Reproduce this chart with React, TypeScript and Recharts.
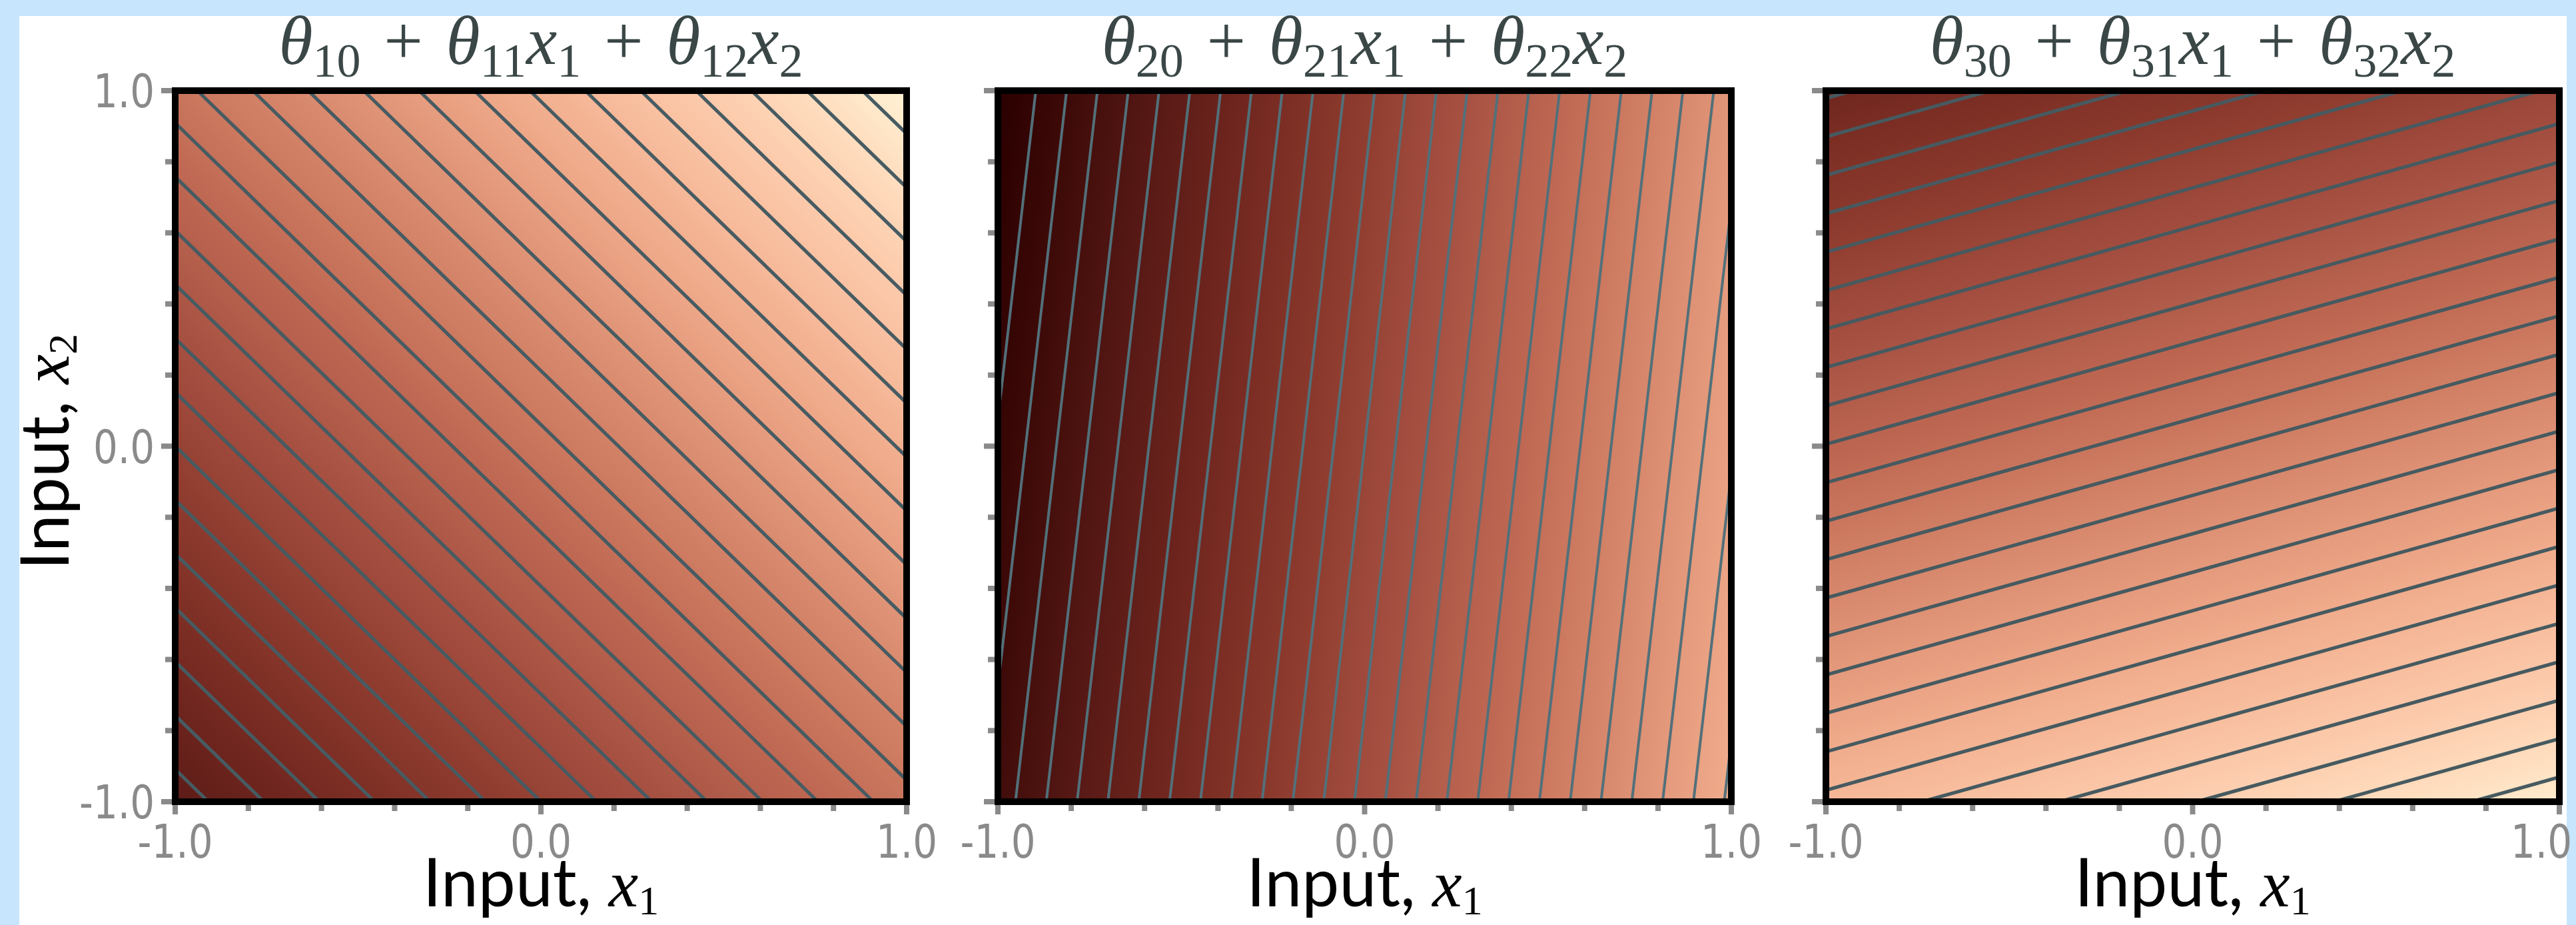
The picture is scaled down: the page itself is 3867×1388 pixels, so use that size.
import React from 'react';
import { ComposedChart, XAxis, YAxis, ReferenceArea, ReferenceLine } from 'recharts';

// ---------- data ----------
const axisTicks = [-1, -0.8, -0.6, -0.4, -0.2, 0, 0.2, 0.4, 0.6, 0.8, 1];
const labelledTicks = [-1, 0, 1];
const tickText = ['-1.0', '0.0', '1.0'];

// plane coefficients [theta_k0, theta_k1, theta_k2]
const theta1 = [0.06, 0.66, 0.66];
const theta2 = [0.0, 1.19, -0.133];
const theta3 = [-0.028, 0.267, -0.925];

// contour levels drawn in each panel
const levels1 = [-1.2, -1.1, -1.0, -0.9, -0.8, -0.7, -0.6, -0.5, -0.4, -0.3, -0.2, -0.1, 0.0, 0.1, 0.2, 0.3, 0.4, 0.5, 0.6, 0.7, 0.8, 0.9, 1.0, 1.1, 1.2, 1.3];
const levels2 = [-1.2, -1.1, -1.0, -0.9, -0.8, -0.7, -0.6, -0.5, -0.4, -0.3, -0.2, -0.1, 0.0, 0.1, 0.2, 0.3, 0.4, 0.5, 0.6, 0.7, 0.8, 0.9, 1.0, 1.1, 1.2, 1.3];
const levels3 = [-1.2, -1.1, -1.0, -0.9, -0.8, -0.7, -0.6, -0.5, -0.4, -0.3, -0.2, -0.1, 0.0, 0.1, 0.2, 0.3, 0.4, 0.5, 0.6, 0.7, 0.8, 0.9, 1.0, 1.1];

// value range mapped onto the colour map
const colorRange1 = [-1.79, 1.36];
const colorRange2 = [-1.323, 2.07];
const colorRange3 = [-1.95, 1.2];

const colormap = [
  '#2a0000', '#3a0806', '#4a120f', '#5c1b17', '#6c241d', '#7c2e24', '#8a382c',
  '#984436', '#a65042', '#b45e4c', '#c26c56', '#ce7c62', '#da8c70', '#e69c7e',
  '#f0ac8c', '#f7bc9c', '#fccbac', '#fedcbd', '#fff0d2',
];

const titleSubs1 = ['10', '11', '12'];
const titleSubs2 = ['20', '21', '22'];
const titleSubs3 = ['30', '31', '32'];

// ---------- layout / style ----------
const PAGE_W = 3867;
const PAGE_H = 1388;
const PLOT_TOP = 136;
const PLOT_H = 1067;
const AXIS_W = 240;
const RIGHT_M = 110;
const XAXIS_H = PAGE_H - PLOT_TOP - PLOT_H;
const tickColor = '#8a8a8a';
const tickFont = "'Liberation Sans Narrow', 'DejaVu Sans Condensed', 'Liberation Sans', sans-serif";
const mathFont = "'Liberation Serif', 'DejaVu Serif', serif";
const labelFont = "Lato, 'Open Sans', sans-serif";
const TICK_SCALE = 0.92;

type Pt = { x: number; y: number };

function contourSegment(theta: number[], z: number): [Pt, Pt] | null {
  const [a0, a1, a2] = theta;
  const pts: Pt[] = [];
  const eps = 1e-9;
  if (Math.abs(a2) > eps) {
    for (const x of [-1, 1]) {
      const y = (z - a0 - a1 * x) / a2;
      if (y >= -1 - eps && y <= 1 + eps) pts.push({ x, y: Math.max(-1, Math.min(1, y)) });
    }
  }
  if (Math.abs(a1) > eps) {
    for (const y of [-1, 1]) {
      const x = (z - a0 - a2 * y) / a1;
      if (x >= -1 - eps && x <= 1 + eps) pts.push({ x: Math.max(-1, Math.min(1, x)), y });
    }
  }
  const uniq: Pt[] = [];
  for (const p of pts) {
    if (!uniq.some((q) => Math.abs(q.x - p.x) < 1e-6 && Math.abs(q.y - p.y) < 1e-6)) uniq.push(p);
  }
  return uniq.length >= 2 ? [uniq[0], uniq[1]] : null;
}

function gradientVector(theta: number[], range: number[]) {
  const [a0, a1, a2] = theta;
  const gx = 2 * a1;
  const gy = -2 * a2;
  const g2 = gx * gx + gy * gy;
  return {
    x1: 0.5 + ((range[0] - a0) * gx) / g2,
    y1: 0.5 + ((range[0] - a0) * gy) / g2,
    x2: 0.5 + ((range[1] - a0) * gx) / g2,
    y2: 0.5 + ((range[1] - a0) * gy) / g2,
  };
}

function majorIndex(v: number) {
  return labelledTicks.findIndex((t) => Math.abs(t - v) < 1e-9);
}

const makeXTick = (endAnchorLast: boolean) => (props: any) => {
  const { x, y, payload } = props;
  const li = majorIndex(payload.value);
  const major = li >= 0;
  const atEnd = endAnchorLast && li === labelledTicks.length - 1;
  return (
    <g>
      <line x1={x} x2={x} y1={y + 5} y2={y + (major ? 19 : 14)} stroke={tickColor} strokeWidth={8} />
      {major && (
        <text
          x={0}
          y={0}
          transform={`translate(${atEnd ? x + 19 : x}, ${y + 84}) scale(${TICK_SCALE}, 1)`}
          textAnchor={atEnd ? 'end' : 'middle'}
          fontSize={70}
          fill={tickColor}
          fontFamily={tickFont}
        >
          {tickText[li]}
        </text>
      )}
    </g>
  );
};

const makeYTick = (showLabel: boolean) => (props: any) => {
  const { x, y, payload } = props;
  const li = majorIndex(payload.value);
  const major = li >= 0;
  return (
    <g>
      <line x1={x - 5} x2={x - (major ? 21 : 15)} y1={y} y2={y} stroke={tickColor} strokeWidth={8} />
      {showLabel && major && (
        <text
          x={0}
          y={0}
          transform={`translate(${x - 31}, ${y + 25}) scale(${TICK_SCALE}, 1)`}
          textAnchor="end"
          fontSize={70}
          fill={tickColor}
          fontFamily={tickFont}
        >
          {tickText[li]}
        </text>
      )}
    </g>
  );
};

type PanelProps = {
  id: string;
  left: number;
  width: number;
  theta: number[];
  levels: number[];
  range: number[];
  lineColor: string;
  lineWidth: number;
  showYLabels: boolean;
  lastAtEdge: boolean;
};

function Panel({ id, left, width, theta, levels, range, lineColor, lineWidth, showYLabels, lastAtEdge }: PanelProps) {
  const gv = gradientVector(theta, range);
  const segs = levels.map((z) => contourSegment(theta, z)).filter((s) => s !== null) as [Pt, Pt][];
  const chartW = AXIS_W + width + RIGHT_M;
  return (
    <div style={{ position: 'absolute', left: left - AXIS_W, top: 0, width: chartW, height: PAGE_H }}>
      <ComposedChart width={chartW} height={PAGE_H} margin={{ top: PLOT_TOP, right: RIGHT_M, bottom: 0, left: 0 }}>
        <defs>
          <linearGradient id={`grad${id}`} gradientUnits="objectBoundingBox" x1={gv.x1} y1={gv.y1} x2={gv.x2} y2={gv.y2}>
            {colormap.map((c, i) => (
              <stop key={i} offset={i / (colormap.length - 1)} stopColor={c} />
            ))}
          </linearGradient>
        </defs>
        <XAxis
          type="number"
          dataKey="x"
          domain={[-1, 1]}
          allowDataOverflow
          ticks={axisTicks}
          interval={0}
          tickSize={0}
          tickMargin={0}
          axisLine={false}
          tickLine={false}
          height={XAXIS_H}
          tick={makeXTick(lastAtEdge)}
        />
        <YAxis
          type="number"
          dataKey="y"
          domain={[-1, 1]}
          allowDataOverflow
          ticks={axisTicks}
          interval={0}
          tickSize={0}
          tickMargin={0}
          axisLine={false}
          tickLine={false}
          width={AXIS_W}
          tick={makeYTick(showYLabels)}
        />
        <ReferenceArea x1={-1} x2={1} y1={-1} y2={1} fill={`url(#grad${id})`} fillOpacity={1} stroke="none" ifOverflow="visible" />
        {segs.map((s, i) => (
          <ReferenceLine key={`c${i}`} segment={s} stroke={lineColor} strokeWidth={lineWidth} ifOverflow="visible" />
        ))}
        <ReferenceLine x={-1} stroke="#000" strokeWidth={10} strokeLinecap="square" ifOverflow="visible" />
        <ReferenceLine x={1} stroke="#000" strokeWidth={10} strokeLinecap="square" ifOverflow="visible" />
        <ReferenceLine y={-1} stroke="#000" strokeWidth={10} strokeLinecap="square" ifOverflow="visible" />
        <ReferenceLine y={1} stroke="#000" strokeWidth={10} strokeLinecap="square" ifOverflow="visible" />
      </ComposedChart>
    </div>
  );
}

function Title({ cx, subs }: { cx: number; subs: string[] }) {
  const big = 104;
  const small = 72;
  const d = 19;
  const op = '\u2004+\u2004';
  return (
    <text x={cx} y={96} textAnchor="middle" fill="#3b4747" fontFamily={mathFont} fontSize={big} style={{ whiteSpace: 'pre' }}>
      <tspan fontStyle="italic">θ</tspan>
      <tspan fontSize={small} dy={d}>{subs[0]}</tspan>
      <tspan dy={-d}>{op}</tspan>
      <tspan fontStyle="italic">θ</tspan>
      <tspan fontSize={small} dy={d}>{subs[1]}</tspan>
      <tspan dy={-d} fontStyle="italic">x</tspan>
      <tspan fontSize={small} dy={d}>1</tspan>
      <tspan dy={-d}>{op}</tspan>
      <tspan fontStyle="italic">θ</tspan>
      <tspan fontSize={small} dy={d}>{subs[2]}</tspan>
      <tspan dy={-d} fontStyle="italic">x</tspan>
      <tspan fontSize={small} dy={d}>2</tspan>
    </text>
  );
}

function AxisLabel({ x, y, sub, rotate }: { x: number; y: number; sub: string; rotate?: boolean }) {
  return (
    <text
      x={x}
      y={y}
      textAnchor="middle"
      fill="#000"
      fontSize={100}
      transform={rotate ? `rotate(-90, ${x}, ${y})` : undefined}
      style={{ whiteSpace: 'pre' }}
    >
      <tspan fontFamily={labelFont}>{'Input, '}</tspan>
      <tspan fontFamily={mathFont} fontStyle="italic" fontSize={100}>x</tspan>
      <tspan fontFamily={mathFont} fontSize={62} dy={12}>{sub}</tspan>
    </text>
  );
}

const panels = [
  { id: '1', left: 263, width: 1098, theta: theta1, levels: levels1, range: colorRange1, subs: titleSubs1, lineColor: '#475b62', lineWidth: 5.2, showY: true, lastAtEdge: false },
  { id: '2', left: 1498, width: 1101, theta: theta2, levels: levels2, range: colorRange2, subs: titleSubs2, lineColor: '#52707a', lineWidth: 4, showY: false, lastAtEdge: false },
  { id: '3', left: 2741, width: 1101, theta: theta3, levels: levels3, range: colorRange3, subs: titleSubs3, lineColor: '#465a60', lineWidth: 5.2, showY: false, lastAtEdge: true },
];

export default function App() {
  return (
    <div style={{ position: 'absolute', left: 0, top: 0, width: PAGE_W, height: PAGE_H, background: '#c7e5fc', overflow: 'hidden' }}>
      <div style={{ position: 'absolute', left: 29, top: 24, width: 3824, height: PAGE_H - 24, background: '#ffffff' }} />
      {panels.map((p) => (
        <Panel
          key={p.id}
          id={p.id}
          left={p.left}
          width={p.width}
          theta={p.theta}
          levels={p.levels}
          range={p.range}
          lineColor={p.lineColor}
          lineWidth={p.lineWidth}
          showYLabels={p.showY}
          lastAtEdge={p.lastAtEdge}
        />
      ))}
      <svg width={PAGE_W} height={PAGE_H} style={{ position: 'absolute', left: 0, top: 0, pointerEvents: 'none' }}>
        {panels.map((p) => (
          <Title key={`t${p.id}`} cx={p.left + p.width / 2} subs={p.subs} />
        ))}
        {panels.map((p) => (
          <AxisLabel key={`x${p.id}`} x={p.left + p.width / 2} y={1360} sub="1" />
        ))}
        <AxisLabel x={103} y={678} sub="2" rotate />
      </svg>
    </div>
  );
}
